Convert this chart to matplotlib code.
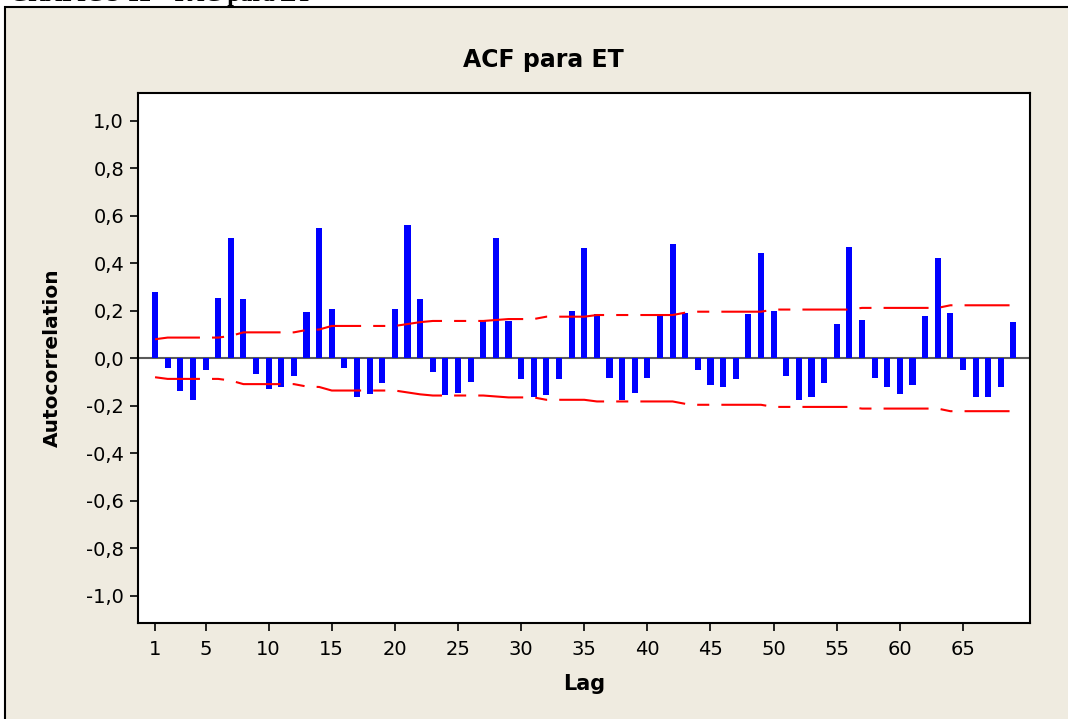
import matplotlib
matplotlib.use('Agg')
from matplotlib import pyplot as plt
from matplotlib.patches import Rectangle
import numpy as np

# autocorrelation by lag
lags = list(range(1, 70))
acf = [0.278, -0.041, -0.138, -0.176, -0.049, 0.254, 0.507, 0.248, -0.066, -0.129,
       -0.122, -0.075, 0.194, 0.549, 0.206, -0.042, -0.162, -0.152, -0.105, 0.206,
       0.561, 0.248, -0.059, -0.155, -0.146, -0.099, 0.158, 0.505, 0.158, -0.088,
       -0.164, -0.153, -0.088, 0.199, 0.466, 0.185, -0.082, -0.176, -0.145, -0.082,
       0.185, 0.483, 0.191, -0.049, -0.112, -0.122, -0.088, 0.185, 0.445, 0.199,
       -0.075, -0.177, -0.163, -0.105, 0.146, 0.467, 0.160, -0.083, -0.122, -0.152,
       -0.112, 0.177, 0.421, 0.192, -0.051, -0.162, -0.162, -0.122, 0.152]

# upper significance limit (lower one is its mirror)
upper = [0.080, 0.087, 0.087, 0.087, 0.087, 0.087, 0.094, 0.109, 0.109, 0.109,
         0.109, 0.109, 0.119, 0.121, 0.136, 0.136, 0.136, 0.136, 0.136, 0.136,
         0.144, 0.152, 0.157, 0.157, 0.157, 0.157, 0.157, 0.161, 0.165, 0.165,
         0.165, 0.175, 0.175, 0.175, 0.175, 0.182, 0.182, 0.182, 0.182, 0.182,
         0.182, 0.182, 0.192, 0.196, 0.196, 0.196, 0.196, 0.196, 0.196, 0.205,
         0.205, 0.205, 0.205, 0.205, 0.205, 0.205, 0.212, 0.212, 0.212, 0.212,
         0.212, 0.212, 0.212, 0.223, 0.223, 0.223, 0.223, 0.223, 0.223]
lower = [-u for u in upper]

xticks = [1, 5, 10, 15, 20, 25, 30, 35, 40, 45, 50, 55, 60, 65]
yticks = [-1.0, -0.8, -0.6, -0.4, -0.2, 0.0, 0.2, 0.4, 0.6, 0.8, 1.0]

plt.rcParams['font.family'] = ['DejaVu Sans']

W, H = 1068, 719
fig = plt.figure(figsize=(W / 100, H / 100), dpi=100)
fig.patch.set_facecolor('white')

# beige panel with black frame
panel = Rectangle((5 / W, -0.1), 1.2, 1.1 - 7 / H, transform=fig.transFigure,
                  facecolor='#EFEBE0', edgecolor='black', lw=1.5, zorder=-5)
fig.patches.append(panel)

# caption of the page, mostly cut off at the top
fig.text(10 / W, 1 - 0.5 / H, 'GRÁFICO 12 – FAC para ET', family='Liberation Serif',
         fontweight='bold', fontsize=17, va='baseline', ha='left')

ax = fig.add_axes([138 / W, 1 - 623 / H, 892 / W, 530 / H])
ax.set_zorder(2)
ax.set_facecolor('white')

dash = (21.6, 5.8, 5.8, 5.8)
ax.bar(lags, acf, width=0.48, color='#0000FF', zorder=3)
ax.axhline(0, color='#5a5a5a', lw=1.5, zorder=2)
ax.plot(lags, upper, color='red', lw=1.5, dashes=dash, zorder=4)
ax.plot(lags, lower, color='red', lw=1.5, dashes=dash, zorder=4)

ax.set_xlim(-0.35, 70.31)
ax.set_ylim(-1.115, 1.117)
ax.set_xticks(xticks)
ax.set_yticks(yticks)
ax.set_yticklabels([('%.1f' % v).replace('.', ',') for v in yticks])
ax.tick_params(axis='both', direction='out', length=6, width=1.2, labelsize=14,
               color='black')
ax.tick_params(axis='x', pad=6)
ax.tick_params(axis='y', pad=4)
for s in ax.spines.values():
    s.set_linewidth(1.5)
    s.set_color('black')

ax.set_xlabel('Lag', fontweight='bold', fontsize=15, va='center')
ax.xaxis.set_label_coords((584 - 138) / 892, (623 - 684) / 530)
ax.set_ylabel('Autocorrelation', fontweight='bold', fontsize=14.5, va='center')
ax.yaxis.set_label_coords((52 - 138) / 892, 0.5)

fig.text(543 / W, 1 - 60 / H, 'ACF para ET', ha='center', va='center',
         fontweight='bold', fontsize=17)

plt.savefig('out.png', dpi=100)
